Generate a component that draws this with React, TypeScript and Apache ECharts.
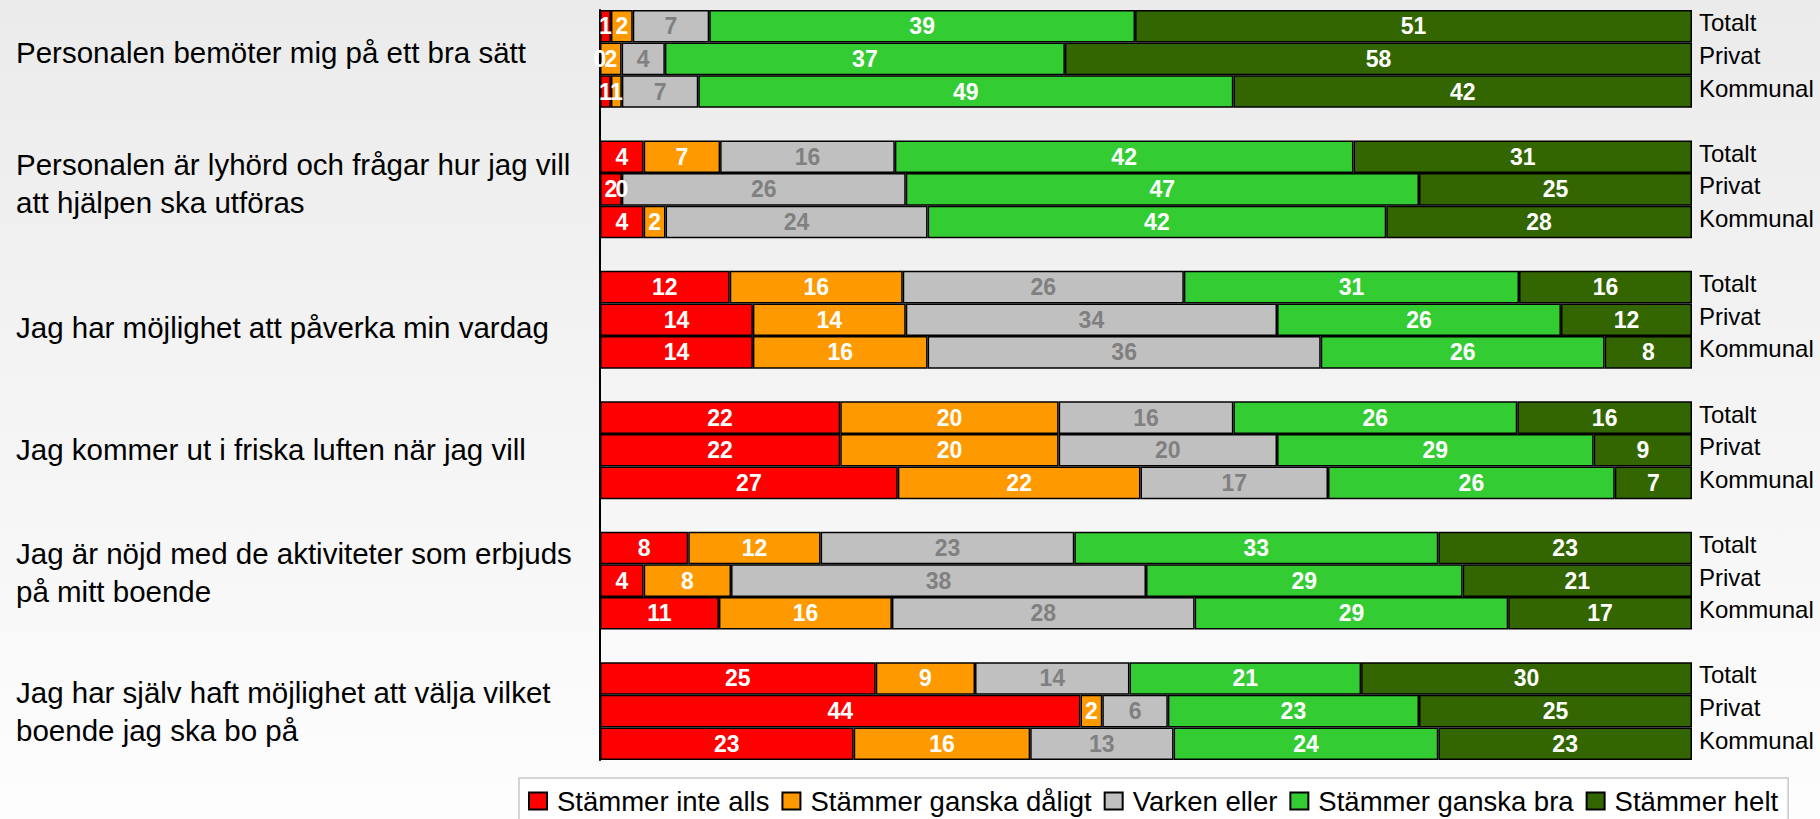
import React, { useEffect, useRef } from "react";
import * as echarts from "echarts";

const questions = [
  "Personalen bemöter mig på ett bra sätt",
  "Personalen är lyhörd och frågar hur jag vill\natt hjälpen ska utföras",
  "Jag har möjlighet att påverka min vardag",
  "Jag kommer ut i friska luften när jag vill",
  "Jag är nöjd med de aktiviteter som erbjuds\npå mitt boende",
  "Jag har själv haft möjlighet att välja vilket\nboende jag ska bo på",
];
const subgroups = ["Totalt", "Privat", "Kommunal"];
const seriesNames = [
  "Stämmer inte alls",
  "Stämmer ganska dåligt",
  "Varken eller",
  "Stämmer ganska bra",
  "Stämmer helt",
];
const seriesColors = ["#ff0000", "#ff9900", "#c0c0c0", "#33cc33", "#336600"];
const labelColors = ["#ffffff", "#ffffff", "#808080", "#ffffff", "#ffffff"];

// values per row: question order, then Totalt / Privat / Kommunal
const stammerInteAlls = [1, 0, 1, 4, 2, 4, 12, 14, 14, 22, 22, 27, 8, 4, 11, 25, 44, 23];
const stammerGanskaDaligt = [2, 2, 1, 7, 0, 2, 16, 14, 16, 20, 20, 22, 12, 8, 16, 9, 2, 16];
const varkenEller = [7, 4, 7, 16, 26, 24, 26, 34, 36, 16, 20, 17, 23, 38, 28, 14, 6, 13];
const stammerGanskaBra = [39, 37, 49, 42, 47, 42, 31, 26, 26, 26, 29, 26, 33, 29, 29, 21, 23, 24];
const stammerHelt = [51, 58, 42, 31, 25, 28, 16, 12, 8, 16, 9, 7, 23, 21, 17, 30, 25, 23];

const seriesValues = [stammerInteAlls, stammerGanskaDaligt, varkenEller, stammerGanskaBra, stammerHelt];

// vertical nudges of the question labels (px, positive = up)
const questionNudge = [6, 6, -8, 1, 8, 0];

export default function App() {
  const ref = useRef<HTMLDivElement>(null);
  useEffect(() => {
    if (!ref.current) return;
    const chart = echarts.init(ref.current, undefined, { renderer: "svg" });

    const keys: string[] = [];
    const rowIndex: (number | null)[] = [];
    questions.forEach((q, qi) => {
      subgroups.forEach((s, si) => {
        keys.push(`${qi}|${si}`);
        rowIndex.push(qi * 3 + si);
      });
      if (qi < questions.length - 1) {
        keys.push(`${qi}|blank`);
        rowIndex.push(null);
      }
    });
    const rowSums = stammerInteAlls.map((_, i) =>
      seriesValues.reduce((a, arr) => a + arr[i], 0)
    );

    const series = seriesNames.map((name, k) => ({
      name,
      type: "bar",
      stack: "total",
      yAxisIndex: 0,
      barCategoryGap: "0%",
      itemStyle: { color: seriesColors[k], borderColor: "#000", borderWidth: 1.5 },
      label: {
        show: true,
        position: "inside",
        fontSize: 23,
        fontWeight: "bold",
        color: labelColors[k],
        formatter: (p: any) => (p.data && p.data.raw !== undefined ? String(p.data.raw) : ""),
      },
      data: rowIndex.map((r) =>
        r === null
          ? "-"
          : { value: (seriesValues[k][r] / rowSums[r]) * 100, raw: seriesValues[k][r] }
      ),
    }));

    const rich: Record<string, any> = {};
    questionNudge.forEach((n, i) => {
      rich["q" + i] = {
        fontSize: 29.5,
        lineHeight: 38,
        color: "#000",
        padding: n >= 0 ? [0, 0, 2 * n, 0] : [-2 * n, 0, 0, 0],
      };
    });

    chart.setOption({
      animation: false,
      textStyle: { fontFamily: "'Liberation Sans', Arial, sans-serif" },
      grid: { left: 600, top: 10, width: 1092, height: 750, containLabel: false },
      xAxis: { type: "value", min: 0, max: 100, show: false },
      yAxis: [
        {
          type: "category",
          data: keys,
          inverse: true,
          position: "right",
          axisLine: { show: true, lineStyle: { color: "#b8b8b8", width: 1.5 } },
          axisTick: { show: false },
          axisLabel: {
            interval: 0,
            margin: 7,
            fontSize: 24,
            color: "#000",
            rich: {
              s: { fontSize: 24, color: "#000", padding: [0, 0, 7, 0] },
            },
            formatter: (v: string) => {
              const [, s] = v.split("|");
              return s === "blank" ? "" : `{s|${subgroups[Number(s)]}}`;
            },
          },
        },
        {
          type: "category",
          data: keys,
          inverse: true,
          position: "left",
          axisLine: { show: true, lineStyle: { color: "#000", width: 2 } },
          axisTick: { show: false },
          axisLabel: {
            interval: 0,
            margin: 584,
            align: "left",
            fontSize: 29.5,
            lineHeight: 38,
            color: "#000",
            rich,
            formatter: (v: string) => {
              const [q, s] = v.split("|");
              if (s !== "1") return "";
              return questions[Number(q)]
                .split("\n")
                .map((line) => `{q${q}|${line}}`)
                .join("\n");
            },
          },
        },
      ],
      legend: {
        data: seriesNames,
        left: 519,
        top: 778,
        orient: "horizontal",
        backgroundColor: "#ffffff",
        borderColor: "#c8c8c8",
        borderWidth: 1.5,
        borderRadius: 0,
        padding: [9, 10, 9, 9],
        icon: "rect",
        itemWidth: 18,
        itemHeight: 17,
        itemGap: 12,
        itemStyle: { borderColor: "#000", borderWidth: 2 },
        textStyle: { fontSize: 27.5, color: "#000", padding: [0, 0, 0, 5] },
      },
      series,
    });
    return () => chart.dispose();
  }, []);
  return (
    <div
      ref={ref}
      style={{
        position: "fixed",
        left: 0,
        top: 0,
        width: 1820,
        height: 819,
        background: "linear-gradient(#ebebeb, #fdfdfd)",
      }}
    />
  );
}
